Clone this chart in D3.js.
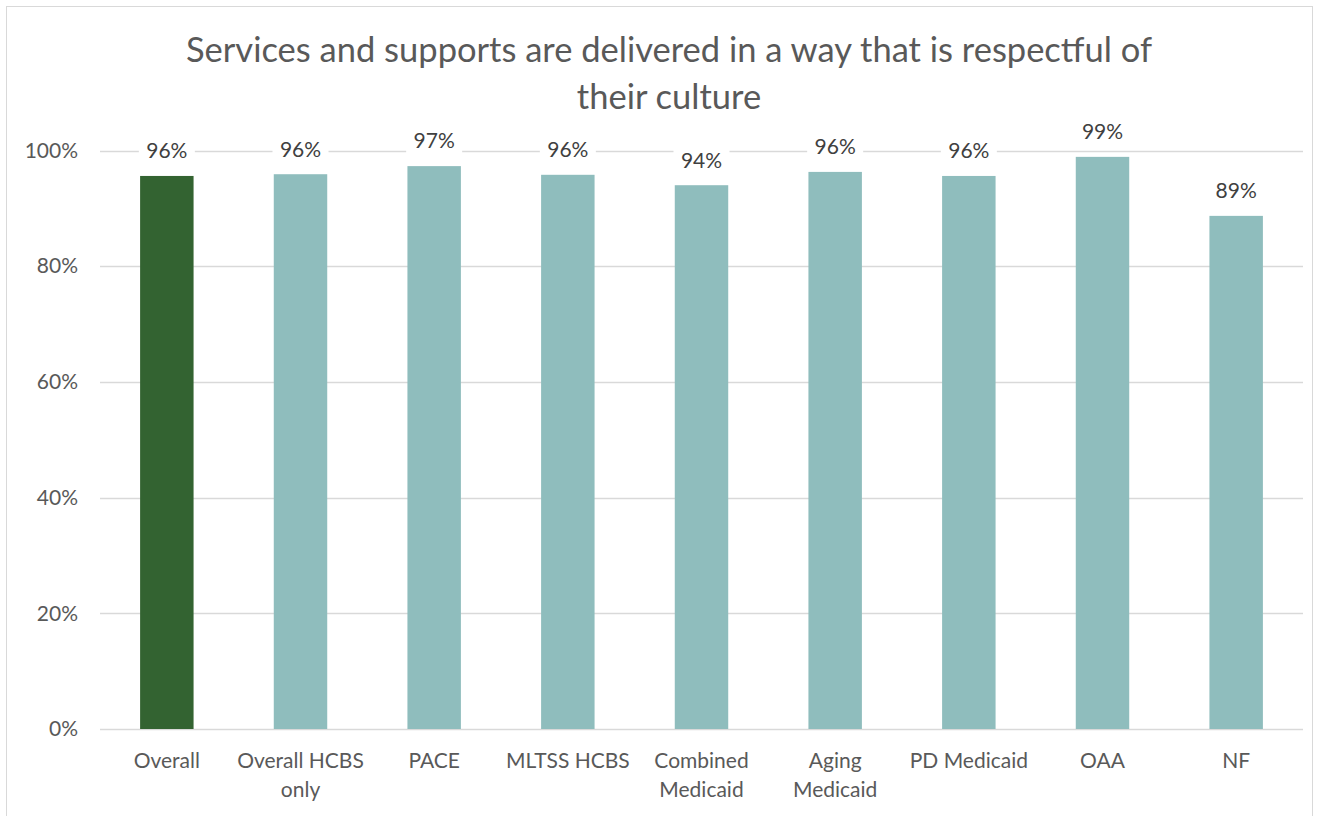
<!DOCTYPE html>
<html><head><meta charset="utf-8">
<script src="https://cdn.jsdelivr.net/npm/d3@7"></script>
<style>body{margin:0;background:#fff;font-family:Lato,"Open Sans",sans-serif;}</style>
</head><body>
<svg id="c" width="1319" height="816"></svg>
<script>
const title = ["Services and supports are delivered in a way that is respectful of", "their culture"];
const categories = ["Overall", "Overall HCBS only", "PACE", "MLTSS HCBS", "Combined Medicaid", "Aging Medicaid", "PD Medicaid", "OAA", "NF"];
const values = [0.956, 0.959, 0.973, 0.958, 0.940, 0.963, 0.956, 0.989, 0.887];
const yTicks = [0, 0.2, 0.4, 0.6, 0.8, 1.0];
const highlight = ["Overall"];

const svg = d3.select("#c");
const m = {left: 100, right: 1303, top: 150.5, bottom: 729};

svg.append("rect").attr("x", 6.5).attr("y", 6.5).attr("width", 1306).attr("height", 830)
  .attr("fill", "#fff").attr("stroke", "#d9d9d9").attr("stroke-width", 1);

const x = d3.scaleBand().domain(categories).range([m.left, m.right]).paddingInner(0.6).paddingOuter(0.3);
const y = d3.scaleLinear().domain([0, 1]).range([m.bottom, m.top]);

// title
const t = svg.append("text").attr("text-anchor", "middle").attr("fill", "#595959")
  .style("font-size", "34.5px");
title.forEach((s, i) => t.append("tspan").attr("x", 669).attr("y", 62 + i * 47).text(s));

// grid
svg.append("g").selectAll("line").data(yTicks).join("line")
  .attr("x1", m.left).attr("x2", m.right)
  .attr("y1", d => Math.round(y(d)) + 0.5).attr("y2", d => Math.round(y(d)) + 0.5)
  .attr("stroke", "#d9d9d9").attr("stroke-width", 1.3);

// y axis labels
const yAxis = d3.axisLeft(y).tickValues(yTicks).tickFormat(d3.format(".0%")).tickSize(0).tickPadding(0);
const ya = svg.append("g").attr("transform", `translate(78,0)`).call(yAxis);
ya.select(".domain").remove();
ya.selectAll("text").attr("fill", "#595959").style("font-size", "21px").style("font-family", "Lato");

// bars
svg.append("g").selectAll("rect").data(categories).join("rect")
  .attr("x", d => x(d)).attr("width", x.bandwidth())
  .attr("y", (d, i) => y(values[i])).attr("height", (d, i) => y(0) - y(values[i]))
  .attr("fill", d => highlight.includes(d) ? "#336331" : "#8fbdbd");

// data labels
const lab = svg.append("g").selectAll("g").data(categories).join("g")
  .attr("transform", (d, i) => `translate(${x(d) + x.bandwidth() / 2},${y(values[i]) - 25})`);
lab.append("rect").attr("x", -28).attr("y", -14).attr("width", 56).attr("height", 28).attr("fill", "#fff");
lab.append("text").attr("text-anchor", "middle").attr("dy", "0.35em").attr("fill", "#404040")
  .style("font-size", "21px").text((d, i) => Math.round(values[i] * 100) + "%");

// category labels with wrapping
const xa = svg.append("g").attr("transform", `translate(0,${m.bottom})`)
  .call(d3.axisBottom(x).tickSize(0).tickPadding(0));
xa.select(".domain").remove();
xa.selectAll("text").attr("fill", "#595959").style("font-size", "21px").style("font-family", "Lato")
  .attr("dy", null).attr("y", null)
  .each(function(d) {
    const el = d3.select(this);
    const words = d.split(" ");
    el.text(null);
    let line = [], lines = [];
    const probe = el.append("tspan");
    words.forEach(w => {
      line.push(w);
      probe.text(line.join(" "));
      if (probe.node().getComputedTextLength() > 138 && line.length > 1) {
        line.pop(); lines.push(line.join(" ")); line = [w];
      }
    });
    lines.push(line.join(" "));
    probe.remove();
    lines.forEach((s, i) => el.append("tspan").attr("x", 0).attr("y", 39 + i * 29).text(s));
  });
</script>
</body></html>
